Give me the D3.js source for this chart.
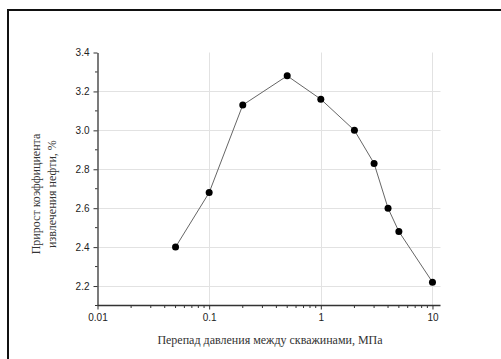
<!DOCTYPE html>
<html>
<head>
<meta charset="utf-8">
<script src="https://cdn.jsdelivr.net/npm/d3@7"></script>
<style>
  body { margin: 0; background: #fff; }
  svg { display: block; }
  .serif { font-family: 'Liberation Serif', 'DejaVu Serif', serif; }
  .sans { font-family: 'Liberation Sans', Arial, sans-serif; }
</style>
</head>
<body>
<div id="chart"></div>
<script>
// Data
const pressureDrop = [0.05, 0.1, 0.2, 0.5, 1, 2, 3, 4, 5, 10];
const oilGain = [2.40, 2.68, 3.13, 3.28, 3.16, 3.00, 2.83, 2.60, 2.48, 2.22];
const xTicks = [0.01, 0.1, 1, 10];
const xTickLabels = ['0.01', '0.1', '1', '10'];
const yTicks = [2.2, 2.4, 2.6, 2.8, 3.0, 3.2, 3.4];
const yTitle = ['Прирост коэффициента', 'извлечения нефти, %'];
const xTitle = 'Перепад давления между скважинами, МПа';

const width = 501, height = 359;
const plotL = 97.5, plotR = 440.5, plotT = 52.5, plotB = 305.5;

const svg = d3.select('#chart').append('svg')
    .attr('width', width).attr('height', height);

// outer frame (top and left edges visible)
svg.append('path')
    .attr('d', `M8,${height} V10 H${width}`)
    .attr('fill', 'none').attr('stroke', '#111').attr('stroke-width', 2);

const x = d3.scaleLog().domain([0.01, 11.8]).range([plotL, plotR]);
const y = d3.scaleLinear().domain([2.1, 3.4]).range([plotB, plotT]);

// gridlines
const grid = svg.append('g').attr('stroke', '#e2e2e2').attr('stroke-width', 1);
grid.selectAll('line.h').data(yTicks.filter(d => d < 3.35))
    .join('line').classed('h', true)
    .attr('x1', plotL).attr('x2', plotR)
    .attr('y1', d => Math.round(y(d)) + 0.5).attr('y2', d => Math.round(y(d)) + 0.5);
grid.selectAll('line.v').data(xTicks.slice(1))
    .join('line').classed('v', true)
    .attr('x1', d => Math.round(x(d)) + 0.5).attr('x2', d => Math.round(x(d)) + 0.5)
    .attr('y1', plotT).attr('y2', plotB);

// minor ticks
const xMinor = [];
for (let e = -2; e <= 0; e++) for (let m = 2; m <= 9; m++) xMinor.push(m * Math.pow(10, e));
const yMinor = d3.range(2.1, 3.35, 0.2);

const axisColor = '#333';
const xAxis = svg.append('g').attr('transform', `translate(0,${plotB})`)
    .call(d3.axisBottom(x).tickValues(xTicks).tickFormat((d, i) => xTickLabels[i])
        .tickSize(4).tickPadding(4));
xAxis.selectAll('line.minor').data(xMinor).join('line').classed('minor', true)
    .attr('x1', d => x(d)).attr('x2', d => x(d)).attr('y1', 0).attr('y2', 2.5)
    .attr('stroke', axisColor);

const yAxis = svg.append('g').attr('transform', `translate(${plotL},0)`)
    .call(d3.axisLeft(y).tickValues(yTicks).tickFormat(d3.format('.1f'))
        .tickSize(4).tickPadding(4).tickSizeOuter(0));
yAxis.selectAll('line.minor').data(yMinor).join('line').classed('minor', true)
    .attr('x1', -2.5).attr('x2', 0).attr('y1', d => y(d)).attr('y2', d => y(d))
    .attr('stroke', axisColor);

[xAxis, yAxis].forEach(a => {
    a.attr('font-family', null);
    a.select('.domain').attr('stroke', axisColor).attr('stroke-width', 1.3);
    a.selectAll('.tick line').attr('stroke', axisColor);
    a.selectAll('.tick text').classed('sans', true)
        .attr('font-size', 10).attr('fill', '#222');
});
xAxis.select('.domain').attr('d', `M${plotL},0H${plotR}`);

// line and markers
const pts = pressureDrop.map((d, i) => [d, oilGain[i]]);
svg.append('path').datum(pts)
    .attr('fill', 'none').attr('stroke', '#666').attr('stroke-width', 1)
    .attr('d', d3.line().x(d => x(d[0])).y(d => y(d[1])));
svg.selectAll('circle.pt').data(pts).join('circle').classed('pt', true)
    .attr('cx', d => x(d[0])).attr('cy', d => y(d[1])).attr('r', 3.5).attr('fill', '#000');

// titles
svg.append('text').classed('serif', true)
    .attr('x', 270).attr('y', 344)
    .attr('text-anchor', 'middle')
    .attr('font-size', 12)
    .attr('fill', '#333').text(xTitle);

const yt = svg.append('text').classed('serif', true)
    .attr('transform', 'translate(40,194) rotate(-90)')
    .attr('text-anchor', 'middle')
    .attr('font-size', 12)
    .attr('fill', '#333');
yt.selectAll('tspan').data(yTitle).join('tspan')
    .attr('x', 0).attr('dy', (d, i) => i ? 16 : 0).text(d => d);
</script>
</body>
</html>
